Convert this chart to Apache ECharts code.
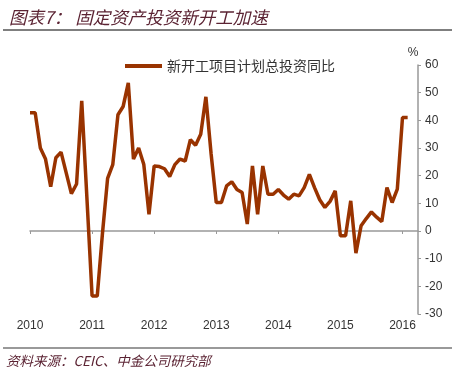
<!DOCTYPE html>
<html>
<head>
<meta charset="utf-8">
<script src="https://cdn.jsdelivr.net/npm/echarts@6/dist/echarts.min.js"></script>
<style>
html,body{margin:0;padding:0;background:#fff;}
#main{width:455px;height:376px;}
</style>
</head>
<body>
<div id="main"></div>
<script>
// 新开工项目计划总投资同比 (%)，月度
var years = ['2010', '2011', '2012', '2013', '2014', '2015', '2016'];
var v2010 = [42.7, 42.7, 30, 26, 16, 26.5, 28.5, 21, 13.5, 17, 47, 12];
var v2011 = [-23.5, -23.5, -1, 19, 24, 42, 45, 53.5, 26, 30, 24, 6];
var v2012 = [23.5, 23.3, 22.5, 19.7, 24, 26, 25.3, 33, 31, 35, 48.5, 28];
var v2013 = [10.3, 10.3, 16.3, 17.8, 15, 13.9, 2.5, 23.5, 6, 23.5, 13.3, 13.3];
var v2014 = [15, 13, 11.5, 13.3, 12.7, 15.7, 20.5, 15.7, 11.3, 8.5, 10.7, 14.5];
var v2015 = [-1.7, -1.7, 10.9, -8, 1.9, 4.5, 6.9, 5, 3.4, 15.7, 10.3, 15.1];
var v2016 = [41, 41, null, null];
var seriesName = '新开工项目计划总投资同比';
var yTicks = {min: -30, max: 60, interval: 10};

// 月份类目
var values = [].concat(v2010, v2011, v2012, v2013, v2014, v2015, v2016);
var months = [];
for (var i = 0; i < values.length; i++) {
    var y = years[Math.floor(i / 12)];
    var m = (i % 12) + 1;
    months.push(y + '-' + (m < 10 ? '0' + m : m));
}

// 只在每年1月显示
function isJan(index, value) {
    return /-01$/.test(value);
}

var lineColor = '#993300';
var textColor = '#5b2333';

var myChart = echarts.init(document.getElementById('main'));
var option = {
    animation: false,
    backgroundColor: '#fff',
    title: {
        text: '图表7： 固定资产投资新开工加速',
        left: 4,
        top: 4,
        textStyle: {
            fontFamily: 'Noto Sans CJK SC',
            fontStyle: 'italic',
            fontWeight: 'normal',
            fontSize: 17.5,
            color: textColor
        }
    },
    legend: {
        data: [seriesName],
        left: 120,
        top: 54,
        icon: 'rect',
        itemWidth: 37,
        itemHeight: 4,
        itemGap: 4,
        textStyle: {
            fontFamily: 'Noto Sans CJK SC',
            fontSize: 14,
            color: '#333'
        }
    },
    grid: {
        left: 30,
        right: 37,
        top: 65,
        bottom: 62,
        containLabel: false
    },
    xAxis: [{
        // 零轴
        type: 'category',
        data: months,
        boundaryGap: false,
        axisLine: {onZero: true, lineStyle: {color: '#999', width: 1.5}},
        axisTick: {show: true, interval: isJan, length: 3, lineStyle: {color: '#999'}},
        axisLabel: {show: false},
        splitLine: {show: false}
    }, {
        // 底部年份
        type: 'category',
        data: months,
        position: 'bottom',
        boundaryGap: false,
        axisLine: {show: false},
        axisTick: {show: false},
        axisLabel: {
            interval: isJan,
            formatter: function (v) { return v.substring(0, 4); },
            fontFamily: 'Liberation Sans',
            fontSize: 12,
            color: '#333',
            margin: 6
        },
        splitLine: {show: false}
    }],
    yAxis: {
        type: 'value',
        position: 'right',
        min: yTicks.min,
        max: yTicks.max,
        interval: yTicks.interval,
        name: '%',
        nameLocation: 'end',
        nameGap: 6,
        nameTextStyle: {
            fontFamily: 'Liberation Sans',
            fontSize: 12,
            color: '#333',
            padding: [0, 10, 0, 0]
        },
        axisLine: {show: true, lineStyle: {color: '#999', width: 1.5}},
        axisTick: {show: true, length: 3, lineStyle: {color: '#999'}},
        axisLabel: {
            fontFamily: 'Liberation Sans',
            fontSize: 12,
            color: '#333',
            margin: 7
        },
        splitLine: {show: false}
    },
    series: [{
        name: seriesName,
        type: 'line',
        data: values,
        xAxisIndex: 0,
        showSymbol: false,
        symbol: 'none',
        lineStyle: {color: lineColor, width: 3.5},
        itemStyle: {color: lineColor}
    }],
    graphic: [{
        type: 'line',
        shape: {x1: 3, y1: 30, x2: 452, y2: 30},
        style: {stroke: '#555', lineWidth: 1.5}
    }, {
        type: 'line',
        shape: {x1: 3, y1: 348, x2: 452, y2: 348},
        style: {stroke: '#777', lineWidth: 1.5}
    }, {
        type: 'text',
        left: 6,
        top: 354,
        style: {
            text: '资料来源：CEIC、中金公司研究部',
            fontFamily: 'Noto Sans CJK SC',
            fontStyle: 'italic',
            fontSize: 13.5,
            fill: textColor
        }
    }]
};
myChart.setOption(option);
</script>
</body>
</html>
